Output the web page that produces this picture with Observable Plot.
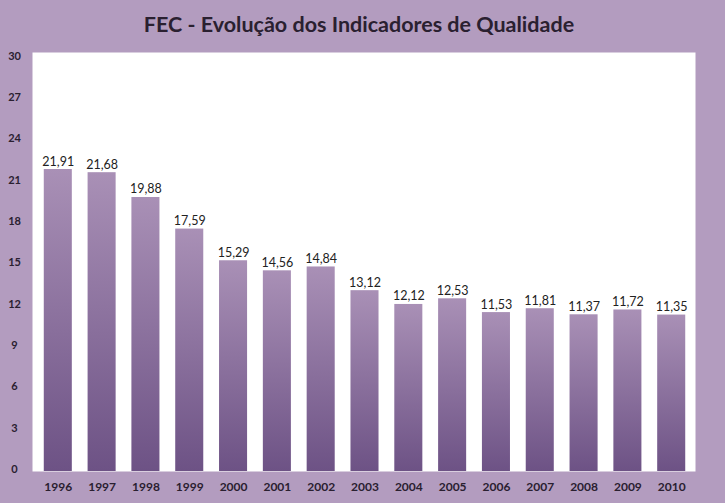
<!DOCTYPE html>
<html><head><meta charset="utf-8">
<script src="https://cdn.jsdelivr.net/npm/d3@7"></script>
<script src="https://cdn.jsdelivr.net/npm/@observablehq/plot@0.6"></script>
<style>body{margin:0;background:#b39cbf;} #chart{width:725px;height:503px;}</style>
</head><body><div id="chart"></div>
<script>
const title = "FEC - Evolução dos Indicadores de Qualidade";
const years = ["1996","1997","1998","1999","2000","2001","2002","2003","2004","2005","2006","2007","2008","2009","2010"];
const values = [21.91,21.68,19.88,17.59,15.29,14.56,14.84,13.12,12.12,12.53,11.53,11.81,11.37,11.72,11.35];
const yTicks = [0,3,6,9,12,15,18,21,24,27,30];
const data = years.map((year, i) => ({year, value: values[i]}));
const fmt = v => v.toFixed(2).replace(".", ",");
const plot = Plot.plot({
  width: 725, height: 503,
  marginLeft: 32, marginRight: 30, marginTop: 52, marginBottom: 32,
  style: {background: "#b39cbf", fontFamily: "Lato, sans-serif", color: "#2a2030"},
  x: {domain: years, padding: 0.36, range: [28, 701], round: false, label: null},
  y: {domain: [0, 30.4], label: null},
  marks: [
    Plot.frame({fill: "white", stroke: "none"}),
    Plot.barY(data, {x: "year", y: "value", fill: "url(#barGrad)"}),
    Plot.text(data, {x: "year", y: "value", text: d => fmt(d.value), dy: -8, fontSize: 12.5, fill: "#222"}),
    Plot.axisX({tickSize: 0, tickPadding: 11, fontSize: 12, fontWeight: "bold"}),
    Plot.axisY({ticks: yTicks, tickSize: 0, tickPadding: 18, textAnchor: "middle", fontSize: 11, fontWeight: "bold", dy: -2}),
    Plot.text([title], {text: d => d, frameAnchor: "top", dy: -36, dx: -5, fontSize: 21.5, fontWeight: "bold", fill: "#2a2030"})
  ]
});
d3.select(plot).insert("defs", ":first-child").html(
  `<linearGradient id="barGrad" x1="0" y1="0" x2="0" y2="1">
     <stop offset="0" stop-color="#a990b6"/>
     <stop offset="1" stop-color="#6d5285"/>
   </linearGradient>`);
document.getElementById("chart").appendChild(plot);
</script>
</body></html>
